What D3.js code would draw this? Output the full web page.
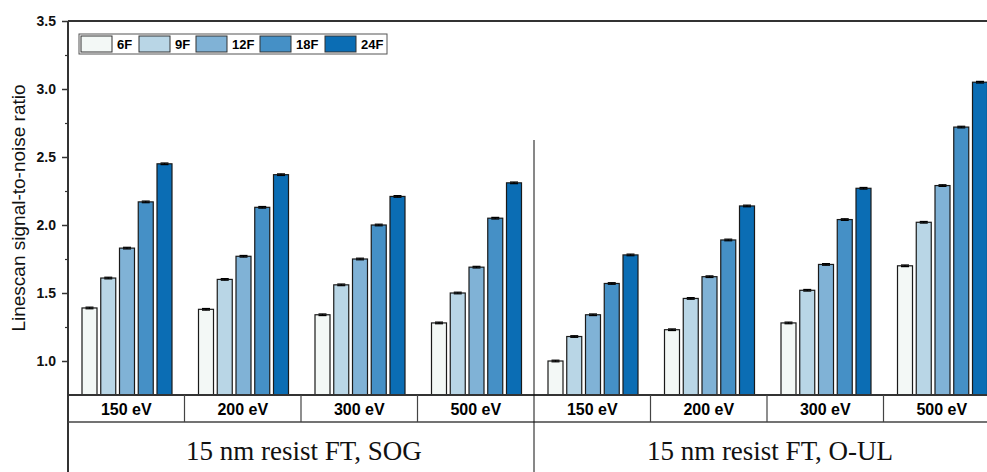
<!DOCTYPE html>
<html lang="en">
<head>
<meta charset="utf-8" />
<title>Linescan SNR</title>
<style>
  body { margin: 0; background: #fff; }
  svg { display: block; }
  .tick text { font-family: Arial, "Liberation Sans", sans-serif; font-weight: bold; font-size: 14px; fill: #111; }
</style>
</head>
<body>
<script src="https://d3js.org/d3.v7.min.js"></script>
<script>
  // data
  const substrates = ["15 nm resist FT, SOG", "15 nm resist FT, O-UL"];
  const energies = ["150 eV", "200 eV", "300 eV", "500 eV"];
  const frames = ["6F", "9F", "12F", "18F", "24F"];
  // 8 values each: SOG 150/200/300/500 then O-UL 150/200/300/500
  const snr6F  = [1.39, 1.38, 1.34, 1.28, 1.00, 1.23, 1.28, 1.70];
  const snr9F  = [1.61, 1.60, 1.56, 1.50, 1.18, 1.46, 1.52, 2.02];
  const snr12F = [1.83, 1.77, 1.75, 1.69, 1.34, 1.62, 1.71, 2.29];
  const snr18F = [2.17, 2.13, 2.00, 2.05, 1.57, 1.89, 2.04, 2.72];
  const snr24F = [2.45, 2.37, 2.21, 2.31, 1.78, 2.14, 2.27, 3.05];
  const snrErr = [0.006, 0.006, 0.006, 0.006, 0.006, 0.006, 0.006, 0.006];
  const yTicks = [1.0, 1.5, 2.0, 2.5, 3.0, 3.5];

  const W = 987, H = 472;
  const plotLeft = 68, plotTop = 21, axisBottom = 395, catRow = 422;
  const groupW = (534 - plotLeft) / 4;

  const svg = d3.select("body").append("svg")
      .attr("width", W).attr("height", H);

  const colors = d3.scaleOrdinal()
      .domain(frames)
      .range(["#f3f8f6", "#b9d6e6", "#80b2d6", "#4590c6", "#0b6db4"]);

  const keys = [];
  substrates.forEach(s => energies.forEach(e => keys.push(s + "|" + e)));

  const xScale = d3.scaleBand()
      .domain(keys)
      .range([plotLeft, plotLeft + groupW * keys.length]);
  const xInner = d3.scaleBand()
      .domain(frames)
      .range([14, 104])
      .paddingInner(0.2);
  const yScale = d3.scaleLinear()
      .domain([0.75, 3.5])
      .range([axisBottom, plotTop]);

  const series = [snr6F, snr9F, snr12F, snr18F, snr24F];
  const rows = [];
  keys.forEach((k, i) => {
    frames.forEach((f, j) => {
      rows.push({key: k, frame: f, v: series[j][i], err: snrErr[i]});
    });
  });

  // bars
  svg.append("g").selectAll("rect")
    .data(rows)
    .enter()
    .append("rect")
    .attr("x", d => xScale(d.key) + xInner(d.frame))
    .attr("y", d => yScale(d.v))
    .attr("width", xInner.bandwidth())
    .attr("height", d => axisBottom - yScale(d.v))
    .style("fill", d => colors(d.frame))
    .style("stroke", "#1a1a1a")
    .style("stroke-width", 1.2);

  // error bars
  const eb = svg.append("g").style("stroke", "#000").style("stroke-width", 1.2);
  rows.forEach(d => {
    const cx = xScale(d.key) + xInner(d.frame) + xInner.bandwidth() / 2;
    eb.append("line").attr("x1", cx).attr("x2", cx)
      .attr("y1", yScale(d.v + d.err)).attr("y2", yScale(d.v - d.err));
    [d.v + d.err, d.v - d.err].forEach(v => {
      eb.append("line").attr("x1", cx - 4).attr("x2", cx + 4)
        .attr("y1", yScale(v)).attr("y2", yScale(v));
    });
  });

  // y axis
  const leftAxis = d3.axisLeft(yScale)
      .tickValues(yTicks)
      .tickFormat(d3.format(".1f"))
      .tickSize(6)
      .tickSizeOuter(0);
  const yg = svg.append("g")
      .attr("transform", "translate(" + plotLeft + ",0)")
      .call(leftAxis);
  yg.select(".domain").remove();
  yg.selectAll(".tick line").style("stroke", "#333").style("stroke-width", 1.5);
  yg.selectAll(".tick text").attr("x", -12);

  const minor = d3.axisLeft(yScale)
      .tickValues([1.25, 1.75, 2.25, 2.75, 3.25])
      .tickSize(3)
      .tickFormat("");
  const mg = svg.append("g")
      .attr("transform", "translate(" + plotLeft + ",0)")
      .call(minor);
  mg.select(".domain").remove();
  mg.selectAll(".tick line").style("stroke", "#333").style("stroke-width", 1.2);

  // frame lines
  const frame = svg.append("g").style("stroke", "#333").style("stroke-width", 2);
  frame.append("line").attr("x1", plotLeft).attr("x2", W).attr("y1", plotTop).attr("y2", plotTop);
  frame.append("line").attr("x1", plotLeft).attr("x2", plotLeft).attr("y1", plotTop).attr("y2", H);
  frame.append("line").attr("x1", plotLeft).attr("x2", W).attr("y1", axisBottom).attr("y2", axisBottom);

  // category row
  const catG = svg.append("g");
  catG.append("line")
      .attr("x1", plotLeft).attr("x2", W).attr("y1", catRow).attr("y2", catRow)
      .style("stroke", "#444").style("stroke-width", 1.5);
  keys.forEach((k, i) => {
    if (i > 0 && i % 4 !== 0) {
      catG.append("line")
        .attr("x1", xScale(k)).attr("x2", xScale(k))
        .attr("y1", axisBottom).attr("y2", catRow)
        .style("stroke", "#444").style("stroke-width", 1.2);
    }
    catG.append("text")
      .attr("x", xScale(k) + xScale.bandwidth() / 2)
      .attr("y", 415)
      .attr("text-anchor", "middle")
      .style("font-family", "Arial, 'Liberation Sans', sans-serif")
      .style("font-weight", "bold")
      .style("font-size", "16px")
      .text(k.split("|")[1]);
  });

  // substrate divider and labels
  const midX = xScale(keys[4]);
  svg.append("line")
      .attr("x1", midX).attr("x2", midX).attr("y1", 140).attr("y2", H)
      .style("stroke", "#111").style("stroke-width", 1);
  substrates.forEach((s, i) => {
    const x0 = xScale(keys[i * 4]);
    svg.append("text")
      .attr("x", x0 + groupW * 2 + 3)
      .attr("y", 460)
      .attr("text-anchor", "middle")
      .style("font-family", "'Liberation Serif', 'Times New Roman', serif")
      .style("font-size", "27px")
      .style("fill", "#111")
      .text(s);
  });

  // y axis label
  svg.append("text")
      .attr("transform", "translate(25,208) rotate(-90)")
      .attr("text-anchor", "middle")
      .style("font-family", "Arial, 'Liberation Sans', sans-serif")
      .style("font-size", "19px")
      .style("fill", "#111")
      .text("Linescan signal-to-noise ratio");

  // legend
  const lg = svg.append("g");
  lg.append("rect")
      .attr("x", 79).attr("y", 34).attr("width", 308).attr("height", 20)
      .style("fill", "#fff").style("stroke", "#555").style("stroke-width", 1);
  const legendX = [81, 139, 196, 260, 325];
  frames.forEach((f, i) => {
    lg.append("rect")
      .attr("x", legendX[i]).attr("y", 36).attr("width", 31).attr("height", 16)
      .style("fill", colors(f)).style("stroke", "#333").style("stroke-width", 1);
    lg.append("text")
      .attr("x", legendX[i] + 36).attr("y", 49)
      .style("font-family", "Arial, 'Liberation Sans', sans-serif")
      .style("font-weight", "bold")
      .style("font-size", "13px")
      .text(f);
  });
</script>
</body>
</html>
